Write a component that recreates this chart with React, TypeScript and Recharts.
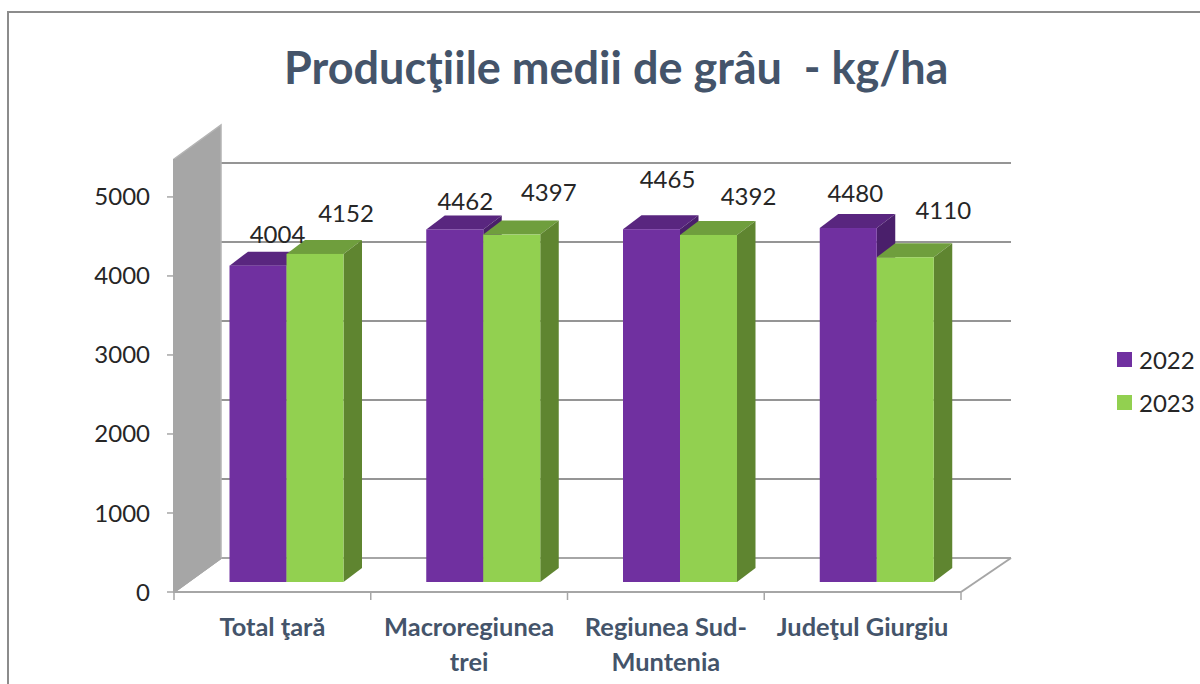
import React from "react";
import { BarChart, Bar, XAxis, YAxis, CartesianGrid, Legend, LabelList, ReferenceArea } from "recharts";

const categories = ["Total ţară", "Macroregiunea trei", "Regiunea Sud-Muntenia", "Judeţul Giurgiu"];
const values2022 = [4004, 4462, 4465, 4480];
const values2023 = [4152, 4397, 4392, 4110];
const yTicks = [0, 1000, 2000, 3000, 4000, 5000];
const chartTitle = "Producţiile medii de grâu  - kg/ha";

const rows = categories.map((name, i) => ({ name, y2022: values2022[i], y2023: values2023[i] }));

// layout
const W = 1200, H = 684;
const LEGEND_W = 83;
const M = { top: 159, right: 239 - LEGEND_W, bottom: 0, left: 0 };
const DX = 47, DY = -34; // wall/floor depth
const BDX = 18.5, BDY = -14; // bar depth
const SX = 14.5, SY = -10; // bar shift into the floor
const BAND = 787 / categories.length;
const FONT = "Lato, Carlito, sans-serif";
const GRID = "#a6a6a6";
const nudge2022 = [[19.5, -32], [10.5, -28.5], [16, -51], [7, -36]];
const nudge2023 = [[31, -41], [37, -43], [40, -39], [38, -48]];

const Bar3D = (front: string, top: string, side: string) => (p: any) => {
  const x = p.x + SX, y = p.y + SY, w = p.width, h = p.height;
  return (
    <g>
      <polygon points={`${x},${y} ${x + BDX},${y + BDY} ${x + w + BDX},${y + BDY} ${x + w},${y}`} fill={top} />
      <polygon points={`${x + w},${y} ${x + w + BDX},${y + BDY} ${x + w + BDX},${y + h + BDY} ${x + w},${y + h}`} fill={side} />
      <rect x={x} y={y} width={w} height={h} fill={front} />
    </g>
  );
};

const BarValue = (nudge: number[][]) => (p: any) => {
  const [dx, dy] = nudge[p.index];
  return (
    <text x={p.x + p.width / 2 + SX + dx} y={p.y + SY + dy} textAnchor="middle" dominantBaseline="central"
      fontFamily={FONT} fontSize={24} fill="#262626">
      {p.value}
    </text>
  );
};

const Wall = (p: any) => {
  const { x, y, height } = p;
  const b = y + height;
  return (
    <g>
      <polygon points={`${x},${y} ${x + DX},${y + DY} ${x + DX},${b + DY} ${x},${b}`} fill="#a6a6a6" stroke="#b4b4b4" strokeWidth={1.5} />
      <polyline points={`${x},${b} ${x + DX},${b + DY}`} stroke={GRID} strokeWidth={2} fill="none" />
    </g>
  );
};

const GridLine = (p: any) => {
  const { x1, x2, y1 } = p;
  if (Math.abs(y1 - M.top) < 1) return <g />;
  const isFloor = Math.abs(y1 - 592) < 1;
  const farRight = x2 + DX + 3;
  return (
    <g>
      <polyline points={`${x1},${y1} ${x1 + DX},${y1 + DY} ${farRight},${y1 + DY}`} fill="none" stroke={isFloor ? GRID : "#959595"} strokeWidth={2} />
      {isFloor && <polyline points={`${x2},${y1} ${farRight},${y1 + DY}`} fill="none" stroke={GRID} strokeWidth={2} />}
    </g>
  );
};

const splitLabel = (s: string) => {
  if (s.length <= 15) return [s];
  const m = s.match(/^(.*?-)(.+)$/) || s.match(/^(.*?)\s(.+)$/);
  return m ? [m[1], m[2]] : [s];
};

const CategoryTick = (p: any) => {
  const { x, payload, index } = p;
  const lines = splitLabel(payload.value);
  const left = x - BAND / 2, right = x + BAND / 2, y0 = 592;
  return (
    <g>
      <line x1={left} x2={left} y1={y0} y2={y0 + 8} stroke={GRID} strokeWidth={1.5} />
      {index === categories.length - 1 && <line x1={right} x2={right} y1={y0} y2={y0 + 8} stroke={GRID} strokeWidth={1.5} />}
      {lines.map((l: string, i: number) => (
        <text key={i} x={x} y={y0 + 34 + i * 35} textAnchor="middle" dominantBaseline="central"
          fontFamily={FONT} fontSize={25.4} fontWeight={700} fill="#44546a">
          {l}
        </text>
      ))}
    </g>
  );
};

const LegendBox = (p: any) => (
  <div style={{ fontFamily: FONT, fontSize: 24, color: "#262626", width: LEGEND_W }}>
    {(p.payload || []).map((e: any, i: number) => (
      <div key={i} style={{ display: "flex", alignItems: "center", height: 43 }}>
        <span style={{ width: 15, height: 15, background: e.color, marginRight: 7, display: "inline-block" }} />
        <span>{e.value}</span>
      </div>
    ))}
  </div>
);

export default function App() {
  return (
    <div style={{ position: "fixed", left: 0, top: 0, width: W, height: H, background: "#fff", overflow: "hidden" }}>
      <div style={{ position: "absolute", left: 7, top: 11, right: 0, bottom: 0, borderTop: "2px solid #8c8c8c", borderLeft: "2px solid #8c8c8c" }} />
      <div style={{ position: "absolute", left: 284, top: 37, whiteSpace: "pre", fontFamily: FONT, fontWeight: 700, fontSize: 45, lineHeight: "60px", color: "#44546a" }}>
        {chartTitle}
      </div>
      <div style={{ position: "absolute", left: 0, top: 0 }}>
        <BarChart width={W} height={H} data={rows} margin={M} barCategoryGap="21%" barGap={0} style={{ background: "transparent" }}>
          <ReferenceArea y1={0} y2={5480} shape={Wall} ifOverflow="visible" />
          <CartesianGrid vertical={false} horizontal={GridLine as any} />
          <XAxis dataKey="name" interval={0} height={92} tickLine={false} axisLine={{ stroke: GRID, strokeWidth: 2 }} tick={CategoryTick as any} />
          <YAxis width={174} domain={[0, 5480]} ticks={yTicks} interval={0} tickSize={7} tickMargin={17}
            axisLine={{ stroke: GRID, strokeWidth: 2 }} tickLine={{ stroke: GRID, strokeWidth: 1.5 }}
            tick={{ fontFamily: FONT, fontSize: 24, fill: "#262626" }} />
          <Legend layout="vertical" align="right" verticalAlign="top" content={LegendBox as any}
            wrapperStyle={{ left: 1117, top: 338, width: LEGEND_W }} />
          <Bar dataKey="y2022" name="2022" fill="#7030a0" barSize={57} isAnimationActive={false}
            shape={Bar3D("#7030a0", "#59267f", "#4a1f6b")}>
            <LabelList dataKey="y2022" content={BarValue(nudge2022) as any} />
          </Bar>
          <Bar dataKey="y2023" name="2023" fill="#92d050" barSize={57} isAnimationActive={false}
            shape={Bar3D("#92d050", "#6f9e3d", "#5f8530")}>
            <LabelList dataKey="y2023" content={BarValue(nudge2023) as any} />
          </Bar>
        </BarChart>
      </div>
    </div>
  );
}
